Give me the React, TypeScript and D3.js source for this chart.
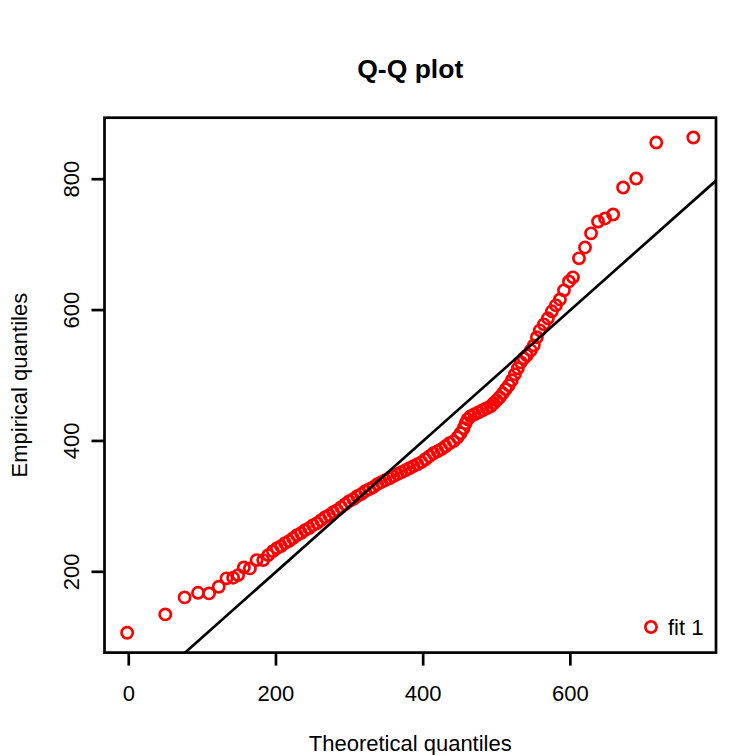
import React from "react";
import * as d3 from "d3";

// Theoretical quantiles (x) and empirical quantiles (y), sorted
const theoretical = [
  -2.2, 49.6, 75.9, 94.1, 109.1, 122.3, 132.8, 141.8, 148.6, 156.4, 164.6, 173.7, 182.7, 189.5,
  195.9, 201.4, 206.8, 212.3, 217.7, 223.2, 228.6, 234.1, 239.5, 245.0, 250.4, 255.9, 261.3, 266.8,
  272.3, 277.7, 283.2, 288.6, 294.1, 299.5, 305.0, 310.4, 315.9, 321.3, 326.8, 332.2, 337.7, 343.1,
  348.6, 354.1, 359.5, 365.0, 370.4, 375.9, 381.3, 386.8, 392.2, 397.7, 403.1, 408.6, 414.0, 419.5,
  424.9, 430.4, 435.8, 441.3, 446.8, 450.8, 454.9, 457.7, 460.4, 464.5, 469.9, 475.4, 480.8, 486.3,
  491.7, 495.8, 499.9, 504.0, 508.1, 512.2, 516.3, 520.4, 524.5, 528.6, 532.6, 536.7, 540.8, 546.3,
  550.4, 554.5, 558.5, 564.0, 569.5, 574.9, 580.4, 585.8, 591.3, 598.1, 603.5, 611.7, 619.9, 628.1,
  637.6, 647.2, 658.1, 671.7, 689.4, 716.7, 767.1,
];
const empirical = [
  106.8, 134.9, 160.9, 167.9, 167.0, 177.1, 190.0, 191.0, 195.0, 206.7, 205.2, 217.9, 217.9, 225.5,
  231.6, 236.2, 239.2, 243.8, 246.9, 251.4, 256.1, 259.1, 263.6, 266.8, 271.3, 274.3, 278.9, 283.5,
  286.6, 291.1, 294.2, 298.8, 303.3, 308.0, 311.0, 315.6, 318.6, 323.2, 326.3, 329.3, 333.9, 337.0,
  340.0, 343.0, 346.1, 349.2, 352.2, 355.2, 358.3, 361.4, 364.4, 367.5, 372.0, 376.7, 381.2, 384.2,
  387.4, 391.9, 396.5, 399.6, 405.6, 411.7, 419.4, 427.1, 433.1, 437.7, 440.8, 443.8, 446.9, 449.9,
  453.0, 457.6, 462.1, 466.8, 472.8, 479.0, 485.0, 492.7, 501.8, 511.0, 520.2, 526.3, 530.8, 538.5,
  546.1, 558.4, 569.0, 578.2, 587.4, 598.1, 607.2, 616.3, 630.1, 643.8, 650.0, 679.0, 695.7, 717.2,
  735.4, 740.0, 746.1, 787.3, 801.1, 856.0, 863.7,
];

const xTicks = [0, 200, 400, 600];
const yTicks = [200, 400, 600, 800];
const titleText = "Q-Q plot";
const xLabel = "Theoretical quantiles";
const yLabel = "Empirical quantiles";
const legendLabels = ["fit 1"];
const refIntercept = 0;
const refSlope = 1;

const FONT = "'Liberation Sans', Arial, Helvetica, sans-serif";

export default function App() {
  const W = 738, H = 755;
  const left = 104.5, right = 716, top = 117.7, bottom = 652.6;
  const pad = (ext: [number, number]): [number, number] => {
    const r = ext[1] - ext[0];
    return [ext[0] - 0.04 * r, ext[1] + 0.04 * r];
  };
  const x = d3.scaleLinear().domain(pad(d3.extent(theoretical) as [number, number])).range([left, right]);
  const y = d3.scaleLinear().domain(pad(d3.extent(empirical) as [number, number])).range([bottom, top]);

  const pts = theoretical.map((t, i) => ({ t, e: empirical[i] }));
  const [x0, x1] = x.domain();
  const lineGen = d3.line<number>().x((d) => x(d)).y((d) => y(refIntercept + refSlope * d));

  const col = "#FF0000";
  const sw = 2.7;
  const rr = 5.6;

  return (
    <svg width={W} height={H} style={{ position: "absolute", left: 0, top: 0, display: "block", background: "#fff" }}>
      <defs>
        <clipPath id="plotclip">
          <rect x={left} y={top} width={right - left} height={bottom - top} />
        </clipPath>
      </defs>
      <rect x={0} y={0} width={W} height={H} fill="#fff" />
      <text x={(left + right) / 2} y={78} textAnchor="middle" fontFamily={FONT} fontWeight="bold" fontSize={26.5}>
        {titleText}
      </text>
      <g clipPath="url(#plotclip)">
        {pts.map((p, i) => (
          <circle key={i} cx={x(p.t)} cy={y(p.e)} r={rr} fill="none" stroke={col} strokeWidth={sw} />
        ))}
        <path d={lineGen([x0, x1]) || ""} fill="none" stroke="#000" strokeWidth={2.7} />
      </g>
      <rect x={left} y={top} width={right - left} height={bottom - top} fill="none" stroke="#000" strokeWidth={2.7} />
      {xTicks.map((t) => (
        <g key={"x" + t}>
          <line x1={x(t)} x2={x(t)} y1={bottom} y2={bottom + 13} stroke="#000" strokeWidth={2.7} />
          <text x={x(t)} y={701} textAnchor="middle" fontFamily={FONT} fontSize={22}>
            {t}
          </text>
        </g>
      ))}
      {yTicks.map((t) => (
        <g key={"y" + t}>
          <line x1={left - 13} x2={left} y1={y(t)} y2={y(t)} stroke="#000" strokeWidth={2.7} />
          <text
            transform={`translate(79,${y(t)}) rotate(-90)`}
            textAnchor="middle"
            fontFamily={FONT}
            fontSize={22}
          >
            {t}
          </text>
        </g>
      ))}
      <text x={(left + right) / 2} y={751} textAnchor="middle" fontFamily={FONT} fontSize={22}>
        {xLabel}
      </text>
      <text
        transform={`translate(27,${(top + bottom) / 2}) rotate(-90)`}
        textAnchor="middle"
        fontFamily={FONT}
        fontSize={22}
      >
        {yLabel}
      </text>
      {legendLabels.map((l, i) => (
        <g key={l}>
          <circle cx={651} cy={627 + i * 25} r={rr} fill="none" stroke={col} strokeWidth={sw} />
          <text x={668} y={634.5 + i * 25} fontFamily={FONT} fontSize={22}>
            {l}
          </text>
        </g>
      ))}
    </svg>
  );
}
